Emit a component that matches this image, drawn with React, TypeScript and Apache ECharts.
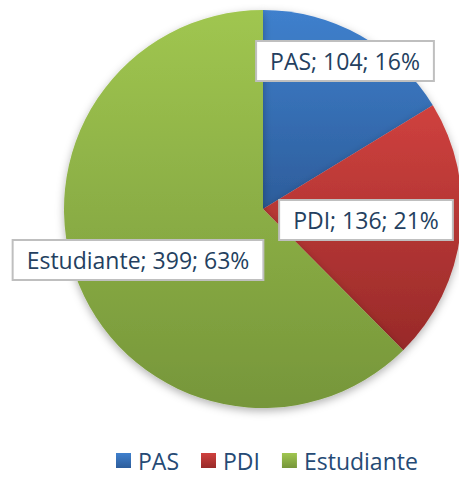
import React, { useEffect, useRef } from "react";
import * as echarts from "echarts";

const categories = ["PAS", "PDI", "Estudiante"];
const values = [104, 136, 399];
const topColors = ["#3F80CD", "#CF413E", "#A0C650"];
const bottomColors = ["#2D5D9B", "#982A29", "#76963A"];
const labelCenters: [number, number][] = [
  [345, 61],
  [366, 220],
  [138, 260],
];

export default function App() {
  const ref = useRef<HTMLDivElement>(null);
  useEffect(() => {
    if (!ref.current) return;
    const chart = echarts.init(ref.current, null, { renderer: "svg" });
    const font = "'Open Sans', Lato, sans-serif";
    chart.setOption({
      animation: false,
      backgroundColor: "#ffffff",
      legend: {
        data: categories,
        bottom: 0,
        left: 111,
        itemWidth: 15,
        itemHeight: 15,
        itemGap: 22,
        icon: "rect",
        textStyle: { fontSize: 23, color: "#254A75", fontFamily: font, padding: [0, 0, 0, 2] },
      },
      series: [
        {
          type: "pie",
          center: [263, 209],
          radius: 199,
          startAngle: 90,
          clockwise: true,
          silent: true,
          percentPrecision: 0,
          data: categories.map((name, i) => ({
            name,
            value: values[i],
            itemStyle: {
              color: new echarts.graphic.LinearGradient(0, 0, 0, 1, [
                { offset: 0, color: topColors[i] },
                { offset: 1, color: bottomColors[i] },
              ]),
            },
          })),
          itemStyle: {
            shadowBlur: 8,
            shadowColor: "rgba(0,0,0,0.3)",
            shadowOffsetY: 3,
          },
          label: {
            show: true,
            position: "inside",
            formatter: "{b}; {c}; {d}%",
            fontSize: 23,
            fontFamily: font,
            color: "#243F60",
            backgroundColor: "#ffffff",
            borderColor: "#BFBFBF",
            borderWidth: 2,
            padding: [8, 13, 7, 13],
          },
          labelLine: { show: false },
          labelLayout: (params: any) => {
            const c = labelCenters[params.dataIndex];
            return { x: c[0], y: c[1], align: "center", verticalAlign: "middle" };
          },
        },
      ],
    });
    return () => chart.dispose();
  }, []);
  return (
    <div
      ref={ref}
      style={{ position: "fixed", left: 0, top: 0, width: 459, height: 477 }}
    />
  );
}
